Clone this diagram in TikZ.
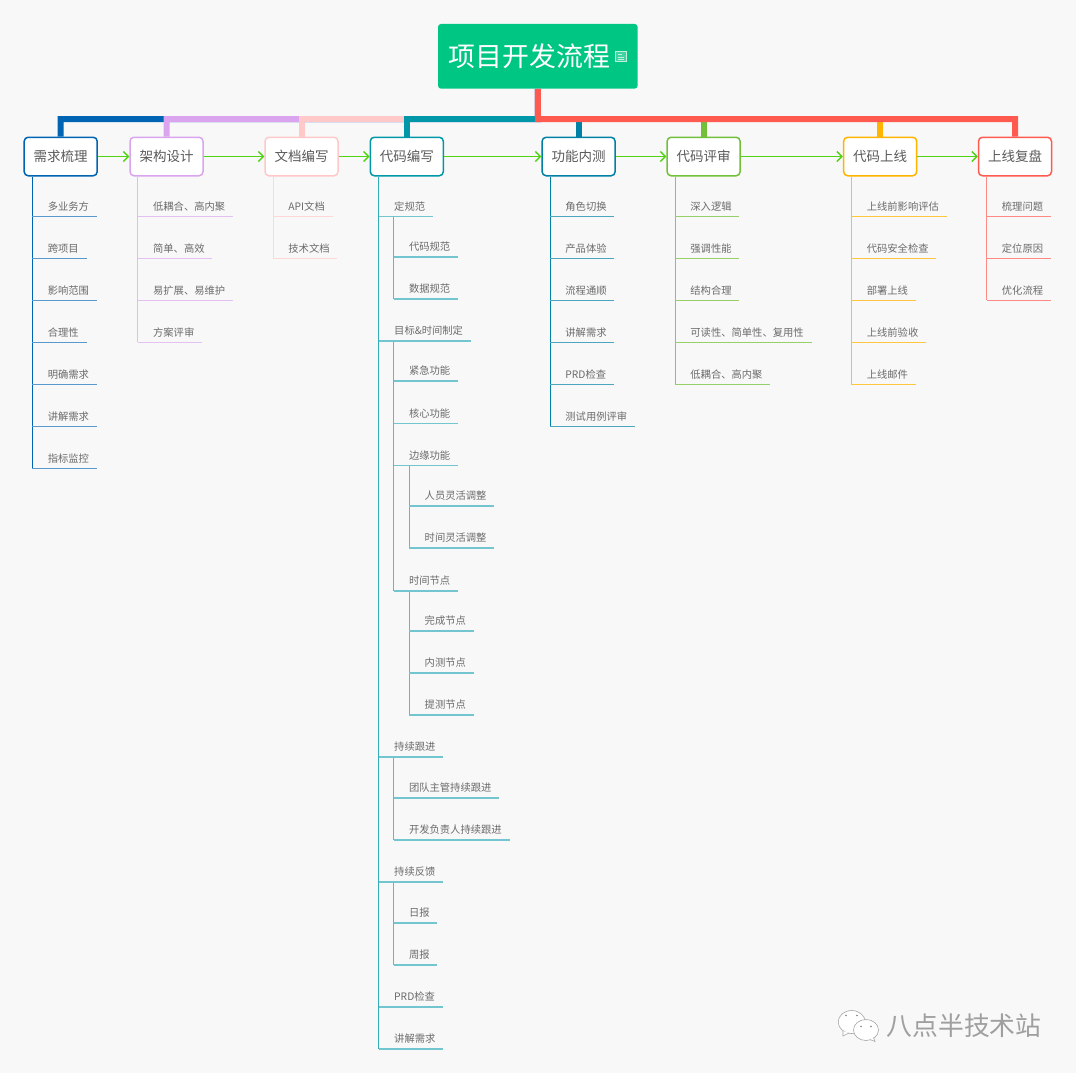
\documentclass[tikz,border=0pt]{standalone}
\usepackage{fontspec}
\setmainfont{Noto Sans CJK SC}
\usetikzlibrary{arrows.meta}
\definecolor{Paper}{HTML}{F8F8F8}
\definecolor{Root}{HTML}{00C684}
\definecolor{Ink}{HTML}{5A5A5A}
\definecolor{Flow}{HTML}{4FD312}
\definecolor{Blue}{HTML}{0064B4}
\definecolor{Purple}{HTML}{DAA5EE}
\definecolor{Pink}{HTML}{FFC9C9}
\definecolor{Teal}{HTML}{0098A8}
\definecolor{Ocean}{HTML}{0080A4}
\definecolor{Green}{HTML}{72C03A}
\definecolor{Amber}{HTML}{FFB400}
\definecolor{Red}{HTML}{FF5A50}
\begin{document}
\begin{tikzpicture}[
    x=1pt,y=-1pt,
    rootbox/.style={fill=Root,text=white,rounded corners=3pt,minimum width=199.6pt,
      minimum height=64.7pt,inner sep=0pt,font=\fontsize{26.9}{30}\selectfont},
    stage/.style={draw=#1,fill=white,text=Ink,line width=1.5pt,rounded corners=4pt,
      minimum width=73pt,minimum height=38.5pt,inner sep=0pt,
      font=\fontsize{13.5}{16}\selectfont},
    leaf/.style={anchor=south west,text=Ink!90,inner xsep=0pt,inner ysep=6pt,
      text height=9pt,text depth=0pt,font=\fontsize{10.3}{12}\selectfont,
      execute at begin node={\hspace*{15.2pt}},execute at end node={\hspace*{7.6pt}}},
    bar/.style={line width=6pt,draw=#1},
    flow/.style={draw=Flow,line width=1.4pt,-{Straight Barb[length=5pt,width=10pt]}},
    trunk/.style={draw=#1,line width=1pt},
    twig/.style={draw=#1,line width=1.1pt}
  ]
    \useasboundingbox (0,0) rectangle (1076,1073);
    \fill[Paper] (0,0) rectangle (1076,1073);

    % root and stages
    \node[rootbox] (root) at (537.8,56.3) {项目开发流程\hspace*{17pt}};
    \coordinate (bus) at (538,119);
    \node[stage=Blue] (need) at (60.7,156.5) {需求梳理};
    \node[stage=Purple] (arch) at (166.5,156.5) {架构设计};
    \node[stage=Pink] (docs) at (301.5,156.5) {文档编写};
    \node[stage=Teal] (code) at (406.8,156.5) {代码编写};
    \node[stage=Ocean] (test) at (578.6,156.5) {功能内测};
    \node[stage=Green] (review) at (703.6,156.5) {代码评审};
    \node[stage=Amber] (online) at (880.2,156.5) {代码上线};
    \node[stage=Red] (recap) at (1015,156.5) {上线复盘};

    % note icon on the root
    \draw[draw=white!75!Root,fill=white!25!Root,line width=1pt] (615.8,51.5) rectangle (626.2,62);
    \draw[draw=white!75!Root,line width=.8pt] (618,54.5) -- (622,54.5) (618,57) -- (624,57) (618,59.5) -- (624,59.5);

    % branches from the root
    \draw[bar=Blue] (root.south) -- (bus) -| (need.north);
    \draw[bar=Purple] (root.south) -- (bus) -| (arch.north);
    \draw[bar=Pink] (bus) -| (docs.north);
    \draw[bar=Teal] (bus) -| (code.north);
    \draw[bar=Ocean] (bus) -| (test.north);
    \draw[bar=Green] (bus) -| (review.north);
    \draw[bar=Amber] (bus) -| (online.north);
    \draw[bar=Red] (root.south) -- (bus) -| (recap.north);

    % order of the stages
    \draw[flow] (need) -- (arch);
    \draw[flow] (arch) -- (docs);
    \draw[flow] (docs) -- (code);
    \draw[flow] (code) -- (test);
    \draw[flow] (test) -- (review);
    \draw[flow] (review) -- (online);
    \draw[flow] (online) -- (recap);

    % need
    \node[leaf] (need1) at (32.4,216.3) {多业务方};
    \node[leaf] (need2) at (32.4,258.3) {跨项目};
    \node[leaf] (need3) at (32.4,300.3) {影响范围};
    \node[leaf] (need4) at (32.4,342.3) {合理性};
    \node[leaf] (need5) at (32.4,384.3) {明确需求};
    \node[leaf] (need6) at (32.4,426.3) {讲解需求};
    \node[leaf] (need7) at (32.4,468.3) {指标监控};
    \draw[trunk=Blue] (need.south -| need7.south west) -- (need7.south west);
    \foreach \n in {need1,need2,need3,need4,need5,need6,need7}
      \draw[twig=Blue!65!white] (\n.south west) -- (\n.south east);

    % arch
    \node[leaf] (arch1) at (137.7,216.3) {低耦合、高内聚};
    \node[leaf] (arch2) at (137.7,258.3) {简单、高效};
    \node[leaf] (arch3) at (137.7,300.3) {易扩展、易维护};
    \node[leaf] (arch4) at (137.7,342.3) {方案评审};
    \draw[trunk=Purple!75!white] (arch.south -| arch4.south west) -- (arch4.south west);
    \foreach \n in {arch1,arch2,arch3,arch4}
      \draw[twig=Purple!70!white] (\n.south west) -- (\n.south east);

    % docs
    \node[leaf] (docs1) at (273,216.3) {API文档};
    \node[leaf] (docs2) at (273,258.3) {技术文档};
    \draw[trunk=Pink!75!white] (docs.south -| docs2.south west) -- (docs2.south west);
    \foreach \n in {docs1,docs2}
      \draw[twig=Pink!75!white] (\n.south west) -- (\n.south east);

    % code
    \node[leaf] (spec) at (378.8,216.3) {定规范};
    \node[leaf] (specCode) at (393.6,257) {代码规范};
    \node[leaf] (specData) at (393.6,299) {数据规范};
    \node[leaf] (goal) at (378.8,341) {目标\&时间制定};
    \node[leaf] (goalUrgent) at (393.6,381) {紧急功能};
    \node[leaf] (goalCore) at (393.6,423.7) {核心功能};
    \node[leaf] (goalEdge) at (393.6,465.3) {边缘功能};
    \node[leaf] (edgeStaff) at (409.3,506) {人员灵活调整};
    \node[leaf] (edgeTime) at (409.3,548) {时间灵活调整};
    \node[leaf] (timing) at (393.6,591) {时间节点};
    \node[leaf] (timingDone) at (409.3,631) {完成节点};
    \node[leaf] (timingTest) at (409.3,673) {内测节点};
    \node[leaf] (timingSubmit) at (409.3,715) {提测节点};
    \node[leaf] (follow) at (378.8,757) {持续跟进};
    \node[leaf] (followLead) at (393.6,798) {团队主管持续跟进};
    \node[leaf] (followDev) at (393.6,840) {开发负责人持续跟进};
    \node[leaf] (feedback) at (378.8,882) {持续反馈};
    \node[leaf] (feedDay) at (393.6,923) {日报};
    \node[leaf] (feedWeek) at (393.6,965) {周报};
    \node[leaf] (codePrd) at (378.8,1007) {PRD检查};
    \node[leaf] (codeTalk) at (378.8,1049) {讲解需求};
    \draw[trunk=Teal!80!white] (code.south -| codeTalk.south west) -- (codeTalk.south west);
    \draw[trunk=Teal!65!white] (spec.south -| specData.south west) -- (specData.south west);
    \draw[trunk=Teal!65!white] (goal.south -| timing.south west) -- (timing.south west);
    \draw[trunk=Teal!65!white] (goalEdge.south -| edgeTime.south west) -- (edgeTime.south west);
    \draw[trunk=Teal!65!white] (timing.south -| timingSubmit.south west) -- (timingSubmit.south west);
    \draw[trunk=Teal!65!white] (follow.south -| followDev.south west) -- (followDev.south west);
    \draw[trunk=Teal!65!white] (feedback.south -| feedWeek.south west) -- (feedWeek.south west);
    \foreach \n in {spec,specCode,specData,goal,goalUrgent,goalCore,goalEdge,edgeStaff,edgeTime,timing,
        timingDone,timingTest,timingSubmit,follow,followLead,followDev,feedback,feedDay,feedWeek,codePrd,codeTalk}
      \draw[twig=Teal!55!white] (\n.south west) -- (\n.south east);

    % test
    \node[leaf] (test1) at (550,216.3) {角色切换};
    \node[leaf] (test2) at (550,258.3) {产品体验};
    \node[leaf] (test3) at (550,300.3) {流程通顺};
    \node[leaf] (test4) at (550,342.3) {讲解需求};
    \node[leaf] (test5) at (550,384.3) {PRD检查};
    \node[leaf] (test6) at (550,426.3) {测试用例评审};
    \draw[trunk=Ocean] (test.south -| test6.south west) -- (test6.south west);
    \foreach \n in {test1,test2,test3,test4,test5,test6}
      \draw[twig=Ocean!70!white] (\n.south west) -- (\n.south east);

    % review
    \node[leaf] (review1) at (675,216.3) {深入逻辑};
    \node[leaf] (review2) at (675,258.3) {强调性能};
    \node[leaf] (review3) at (675,300.3) {结构合理};
    \node[leaf] (review4) at (675,342.3) {可读性、简单性、复用性};
    \node[leaf] (review5) at (675,384.3) {低耦合、高内聚};
    \draw[trunk=Green!85!white] (review.south -| review5.south west) -- (review5.south west);
    \foreach \n in {review1,review2,review3,review4,review5}
      \draw[twig=Green!75!white] (\n.south west) -- (\n.south east);

    % online
    \node[leaf] (online1) at (851.4,216.3) {上线前影响评估};
    \node[leaf] (online2) at (851.4,258.3) {代码安全检查};
    \node[leaf] (online3) at (851.4,300.3) {部署上线};
    \node[leaf] (online4) at (851.4,342.3) {上线前验收};
    \node[leaf] (online5) at (851.4,384.3) {上线邮件};
    \draw[trunk=Amber!85!white] (online.south -| online5.south west) -- (online5.south west);
    \foreach \n in {online1,online2,online3,online4,online5}
      \draw[twig=Amber!75!white] (\n.south west) -- (\n.south east);

    % recap
    \node[leaf] (recap1) at (986.5,216.3) {梳理问题};
    \node[leaf] (recap2) at (986.5,258.3) {定位原因};
    \node[leaf] (recap3) at (986.5,300.3) {优化流程};
    \draw[trunk=Red!70!white] (recap.south -| recap3.south west) -- (recap3.south west);
    \foreach \n in {recap1,recap2,recap3}
      \draw[twig=Red!70!white] (\n.south west) -- (\n.south east);

    % watermark
    \draw[draw=gray!70,fill=white,line width=.6pt] (851.7,1022) ellipse (13.5 and 11.5);
    \draw[draw=gray!70,fill=white,line width=.6pt] (843,1031) -- (843,1036) -- (849,1033);
    \draw[draw=gray!70,fill=white,line width=.6pt] (866,1030) ellipse (12.5 and 10.5);
    \draw[draw=gray!70,fill=white,line width=.6pt] (870,1039.5) -- (875,1041.5) -- (873.5,1037.5);
    \fill[gray] (846,1015.5) circle (.9) (857,1015.5) circle (.9) (861,1026.5) circle (.9) (871,1026.5) circle (.9);
    \node[text=gray!75,inner sep=0pt,font=\fontsize{25.8}{30}\selectfont] (mark) at (964,1026) {八点半技术站};
\end{tikzpicture}
\end{document}
